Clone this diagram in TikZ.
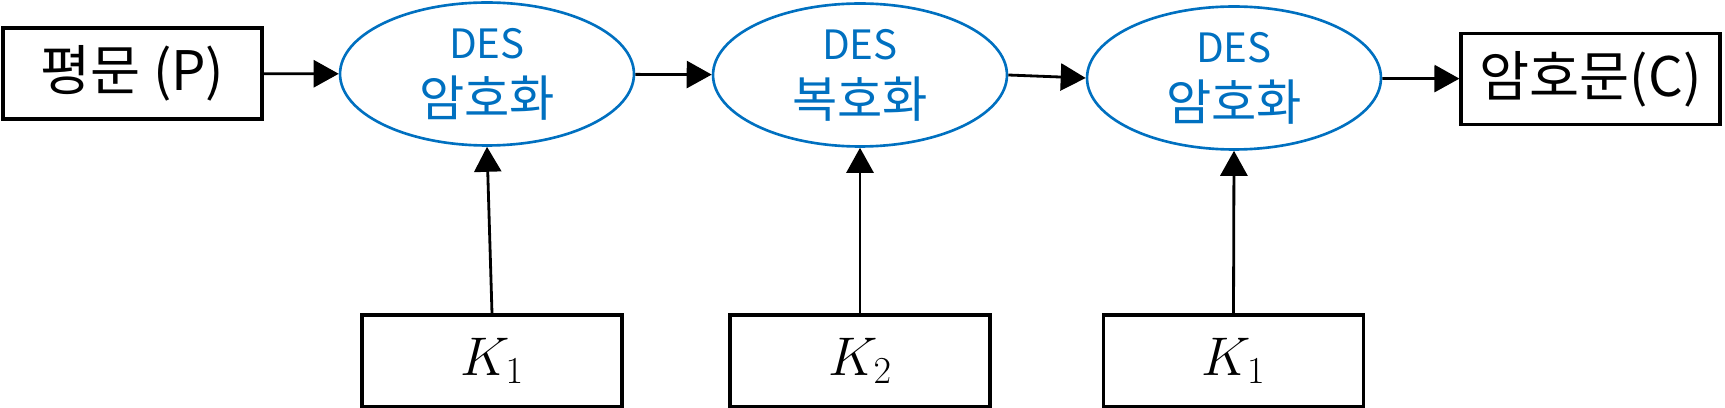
\RequirePackage{fix-cm}
\documentclass[tikz,border=0pt]{standalone}
\usepackage[no-math]{fontspec}
\setmainfont{Noto Sans CJK KR}
\usepackage{xcolor}
\usetikzlibrary{shapes.geometric,arrows.meta}
\definecolor{desblue}{RGB}{0,112,192}
\newcommand{\Bigtext}{\fontsize{31}{36}\selectfont}
\newcommand{\Destext}[1]{{\fontsize{23}{33}\selectfont DES}\\#1}
\tikzstyle{box}=[draw,line width=1.8pt,rectangle,minimum width=5.18cm,minimum height=1.82cm,inner sep=0pt]
\tikzstyle{des}=[draw=desblue,line width=1.5pt,ellipse,minimum width=5.88cm,minimum height=2.86cm,inner sep=0pt,text=desblue,align=center,font=\fontsize{28}{33}\selectfont]
\tikzstyle{flow}=[-{Triangle[length=0.5cm,width=0.54cm]},line width=1.6pt]

\begin{document}
\begin{tikzpicture}[x=0.02cm,y=-0.02cm]
  \useasboundingbox (0,0) rectangle (1725,408);
  \draw (132.5,73.5) node[box] (P) {\Bigtext 평문 (P)};
  \draw (487,74) node[des] (E1) {\Destext{암호화}};
  \draw (860,75) node[des] (E2) {\Destext{복호화}};
  \draw (1234,78) node[des] (E3) {\Destext{암호화}};
  \draw (1590.5,79) node[box] (C) {\Bigtext 암호문(C)};

  \draw (492,361) node[box,minimum width=5.2cm,minimum height=1.84cm] (K1) {\Bigtext $K_1$};
  \draw (860,361) node[box,minimum width=5.2cm,minimum height=1.84cm] (K2) {\Bigtext $K_2$};
  \draw (1233.5,361) node[box,minimum width=5.2cm,minimum height=1.84cm] (K3) {\Bigtext $K_1$};

  \draw[flow] (P) -- (E1);
  \draw[flow] (E1) -- (E2);
  \draw[flow] (E2.east) -- (E3.west);
  \draw[flow] (E3) -- (C);

  \draw[flow] (K1.north) -- (E1.south);
  \draw[flow] (K2.north) -- (E2.south);
  \draw[flow] (K3.north) -- (E3.south);
\end{tikzpicture}
\end{document}
